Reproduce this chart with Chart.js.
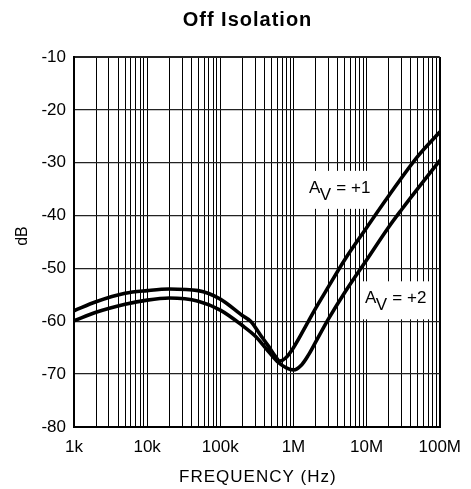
<!DOCTYPE html>
<html><head><meta charset="utf-8">
<script src="https://cdn.jsdelivr.net/npm/chart.js@4"></script>
<style>html,body{margin:0;padding:0;background:#fff}#wrap{width:471px;height:489px}</style>
</head><body><div id="wrap"><canvas id="c" width="471" height="489"></canvas></div>
<script>
const titleText = 'Off Isolation';
const xTitle = 'FREQUENCY (Hz)';
const yTitle = 'dB';
const decadeTicks = [1e3, 1e4, 1e5, 1e6, 1e7, 1e8];
const decadeLabels = ['1k', '10k', '100k', '1M', '10M', '100M'];
const yTicks = [-80, -70, -60, -50, -40, -30, -20, -10];

const freqAv1 = [1e3, 2e3, 5e3, 1e4, 2e4, 5e4, 1e5, 2e5, 2.6e5, 3.5e5, 4.5e5, 5.5e5, 6.5e5, 8e5, 1e6, 1.6e6, 2e6, 3e6, 5e6, 1e7, 2e7, 5e7, 1e8];
const av1     = [-58.0, -56.3, -54.7, -54.2, -53.9, -54.2, -55.8, -58.9, -60.0, -62.5, -64.6, -66.4, -67.5, -66.8, -65.0, -60.0, -57.6, -53.5, -48.4, -42.3, -36.3, -28.8, -24.2];

const freqAv2 = [1e3, 2e3, 5e3, 1e4, 2e4, 5e4, 1e5, 2e5, 3e5, 4.3e5, 6e5, 8e5, 1e6, 1.3e6, 1.6e6, 2e6, 3e6, 5e6, 1e7, 2e7, 3e7, 5e7, 1e8];
const av2     = [-59.9, -58.3, -56.8, -56.0, -55.6, -56.2, -57.9, -60.8, -62.8, -65.3, -67.6, -68.8, -69.2, -68.2, -66.4, -64.0, -59.6, -54.6, -48.4, -42.2, -38.9, -34.9, -29.6];

const seriesGain = ['+1', '+2'];
const labelFreq = [1.63e6, 9.5e6];
const labelDb = [-35.7, -56.6];

const FONT = "'Liberation Sans', Arial, Helvetica, sans-serif";

const textPlugin = {
  id: 'textPlugin',
  beforeDatasetsDraw(chart) {
    const ctx = chart.ctx;
    const xs = chart.scales.x, ys = chart.scales.y;
    ctx.save();
    ctx.font = '17px ' + FONT;
    ctx.textBaseline = 'alphabetic';
    ctx.textAlign = 'left';
    for (let i = 0; i < seriesGain.length; i++) {
      const px = xs.getPixelForValue(labelFreq[i]);
      const py = ys.getPixelForValue(labelDb[i]);
      const wA = ctx.measureText('A').width;
      const wV = ctx.measureText('V').width;
      const rest = ' = ' + seriesGain[i];
      const wR = ctx.measureText(rest).width;
      const total = wA + wV + wR;
      ctx.fillStyle = '#fff';
      ctx.fillRect(px - 3, py - 22, total + 7, 38);
      ctx.fillStyle = '#000';
      ctx.fillText('A', px, py);
      ctx.fillText('V', px + wA - 0.5, py + 7);
      ctx.fillText(rest, px + wA + wV, py);
    }
    ctx.restore();
  },
  afterDraw(chart) {
    const ctx = chart.ctx;
    const ca = chart.chartArea;
    ctx.save();
    ctx.fillStyle = '#000';
    ctx.textAlign = 'center';
    ctx.textBaseline = 'middle';
    try { ctx.letterSpacing = '1px'; } catch (e) {}
    ctx.font = 'bold 20px ' + FONT;
    ctx.fillText(titleText, 247.5, 20);
    try { ctx.letterSpacing = '1px'; } catch (e) {}
    ctx.font = '17px ' + FONT;
    ctx.fillText(xTitle, (ca.left + ca.right) / 2 + 1, 477.5);
    try { ctx.letterSpacing = '0px'; } catch (e) {}
    ctx.font = '16px ' + FONT;
    ctx.translate(23, 236);
    ctx.rotate(-Math.PI / 2);
    ctx.fillText(yTitle, 0, 0);
    ctx.restore();
  }
};

new Chart(document.getElementById('c'), {
  type: 'line',
  data: {
    datasets: [
      { label: 'AV = +1', data: freqAv1.map((f, i) => ({ x: f, y: av1[i] })),
        borderColor: '#000', borderWidth: 3.6, pointRadius: 0, fill: false,
        cubicInterpolationMode: 'monotone', borderCapStyle: 'round', borderJoinStyle: 'round' },
      { label: 'AV = +2', data: freqAv2.map((f, i) => ({ x: f, y: av2[i] })),
        borderColor: '#000', borderWidth: 3.6, pointRadius: 0, fill: false,
        cubicInterpolationMode: 'monotone', borderCapStyle: 'round', borderJoinStyle: 'round' }
    ]
  },
  options: {
    responsive: false, animation: false, devicePixelRatio: 1,
    layout: { padding: { top: 57, right: 25, bottom: 0, left: 0 } },
    plugins: { legend: { display: false }, tooltip: { enabled: false }, title: { display: false } },
    scales: {
      x: {
        type: 'logarithmic', min: 1e3, max: 1e8,
        afterBuildTicks: (s) => {
          const t = [];
          for (let d = 3; d < 8; d++) for (let m = 1; m < 10; m++) t.push({ value: m * Math.pow(10, d) });
          t.push({ value: 1e8 });
          s.ticks = t;
        },
        afterFit: (s) => { s.height = 62; },
        ticks: {
          autoSkip: false, maxRotation: 0, minRotation: 0, padding: 10, color: '#000',
          font: { family: FONT, size: 17 },
          callback: (v) => {
            const i = decadeTicks.findIndex(d => Math.abs(d - v) / d < 1e-6);
            return i >= 0 ? decadeLabels[i] : '';
          }
        },
        grid: { color: '#000', drawTicks: false,
          lineWidth: (c) => (c.tick && (c.tick.value === 1e8 || c.tick.value === 1e3)) ? 2 : 1 },
        border: { color: '#000', width: 2 }
      },
      y: {
        min: -80, max: -10,
        afterBuildTicks: (s) => { s.ticks = yTicks.map(v => ({ value: v })); },
        afterFit: (s) => { s.width = 74; },
        ticks: { padding: 8, color: '#000', font: { family: FONT, size: 17 } },
        grid: { color: '#222', drawTicks: false,
          lineWidth: (c) => (c.tick && (c.tick.value === -10 || c.tick.value === -80)) ? 2 : 1.3 },
        border: { color: '#000', width: 2 }
      }
    }
  },
  plugins: [textPlugin]
});
</script>
</body></html>
